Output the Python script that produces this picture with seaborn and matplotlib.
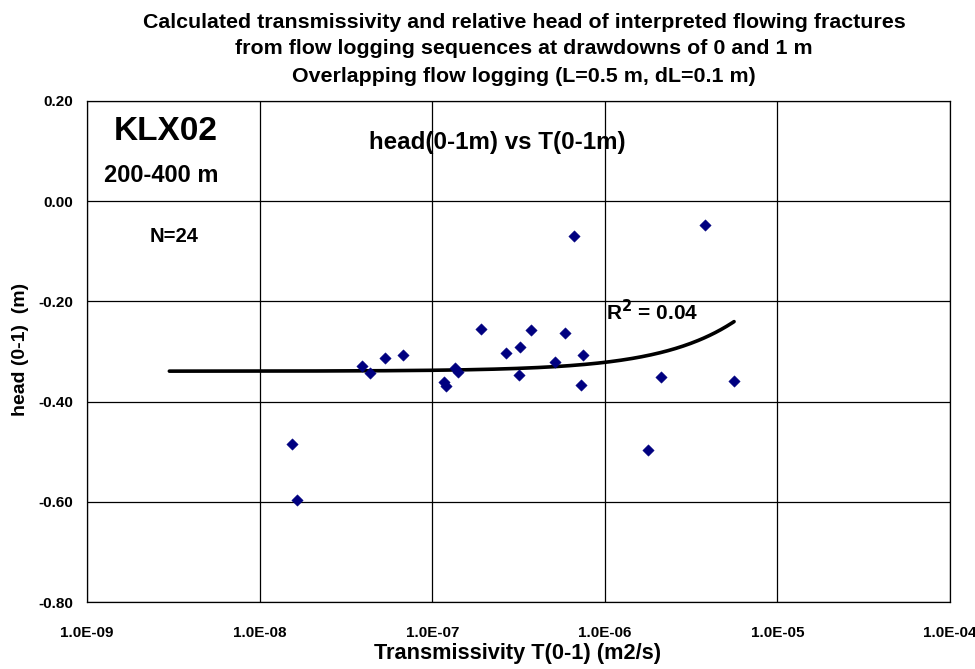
import numpy as np
import pandas as pd
import matplotlib
matplotlib.use("Agg")
import matplotlib.pyplot as plt
import seaborn as sns
from matplotlib.ticker import FixedLocator, FuncFormatter, NullLocator

# Transmissivity T(0-1) (m2/s) and head (0-1) (m) of the interpreted flowing fractures
transmissivity = [1.55e-8, 1.64e-8, 3.92e-8, 4.38e-8, 5.33e-8, 6.78e-8,
                  1.17e-7, 1.21e-7, 1.35e-7, 1.41e-7, 1.91e-7, 2.69e-7,
                  3.24e-7, 3.18e-7, 3.72e-7, 5.12e-7, 5.90e-7, 6.62e-7,
                  7.46e-7, 7.24e-7, 1.79e-6, 2.11e-6, 3.81e-6, 5.61e-6]
head = [-0.485, -0.596, -0.329, -0.343, -0.313, -0.306,
        -0.361, -0.368, -0.333, -0.340, -0.255, -0.302,
        -0.292, -0.347, -0.258, -0.321, -0.264, -0.070,
        -0.307, -0.367, -0.497, -0.351, -0.047, -0.359]

x_ticks = [1e-9, 1e-8, 1e-7, 1e-6, 1e-5, 1e-4]
y_ticks = [0.20, 0.00, -0.20, -0.40, -0.60, -0.80]
trend_start = 3e-9

title_lines = ["Calculated transmissivity and relative head of interpreted flowing fractures",
               "from flow logging sequences at drawdowns of 0 and 1 m",
               "Overlapping flow logging (L=0.5 m, dL=0.1 m)"]

df = pd.DataFrame({"T": transmissivity, "head": head})

sns.set_theme(style="white")
plt.rcParams["font.family"] = ["Liberation Sans", "DejaVu Sans"]
plt.rcParams["font.weight"] = "bold"
plt.rcParams["text.color"] = "black"
plt.rcParams["axes.labelcolor"] = "black"

fig = plt.figure(figsize=(9.75, 6.69), dpi=100)
ax = fig.add_axes([87 / 975, 1 - 602 / 669, (950 - 87) / 975, (602 - 101) / 669])

# Linear trend of head against T (straight in T, curved on the log axis)
slope, intercept = np.polyfit(df["T"], df["head"], 1)
fit = intercept + slope * df["T"]
r2 = 1 - np.sum((df["head"] - fit) ** 2) / np.sum((df["head"] - df["head"].mean()) ** 2)
t_line = np.logspace(np.log10(trend_start), np.log10(max(transmissivity)), 300)
trend = pd.DataFrame({"T": t_line, "head": intercept + slope * t_line})
sns.lineplot(data=trend, x="T", y="head", ax=ax, color="black", linewidth=2.6, zorder=3)

sns.scatterplot(data=df, x="T", y="head", ax=ax, marker="D", color="#000080",
                s=34, edgecolor="#000080", linewidth=0.3, zorder=4)

ax.set_xscale("log")
ax.set_xlim(x_ticks[0], x_ticks[-1])
ax.set_ylim(min(y_ticks), max(y_ticks))
ax.xaxis.set_major_locator(FixedLocator(x_ticks))
ax.xaxis.set_minor_locator(NullLocator())
ax.yaxis.set_major_locator(FixedLocator(y_ticks))
ax.xaxis.set_major_formatter(FuncFormatter(lambda v, p: f"{v:.1E}"))
ax.yaxis.set_major_formatter(FuncFormatter(lambda v, p: f"{v:.2f}"))

ax.grid(True, color="black", linewidth=0.9)
for sp in ax.spines.values():
    sp.set_color("black")
    sp.set_linewidth(0.9)
ax.tick_params(axis="both", which="major", direction="out", length=4, width=0.9,
               color="black", labelsize=11, labelcolor="black")
ax.tick_params(axis="x", pad=13)
ax.tick_params(axis="y", pad=6)
for lab in ax.get_xticklabels() + ax.get_yticklabels():
    lab.set_fontweight("bold")

ax.set_xlabel("")
ax.set_ylabel("")


def fig_text(px, py, s, size, rotation=0):
    fig.text(px / 975, 1 - py / 669, s, ha="center", va="center", rotation=rotation,
             fontsize=size, fontweight="bold", color="black")


for i, line in enumerate(title_lines):
    fig_text(524, 22 + 27 * i, line, 15.4)

fig_text(518, 653, "Transmissivity T(0-1) (m2/s)", 15.7)
fig_text(21, 349, "head (0-1)  (m)", 14, rotation=90)

fig_text(166, 131, "KLX02", 24)
fig_text(161, 176, "200-400 m", 17)
fig_text(174, 236, "N=24", 14.5)
fig_text(497, 142, "head(0-1m) vs T(0-1m)", 17.4)
fig_text(652, 312, f"R$^2$ = {r2:.2f}", 15)

fig.savefig("out.png", dpi=100)
